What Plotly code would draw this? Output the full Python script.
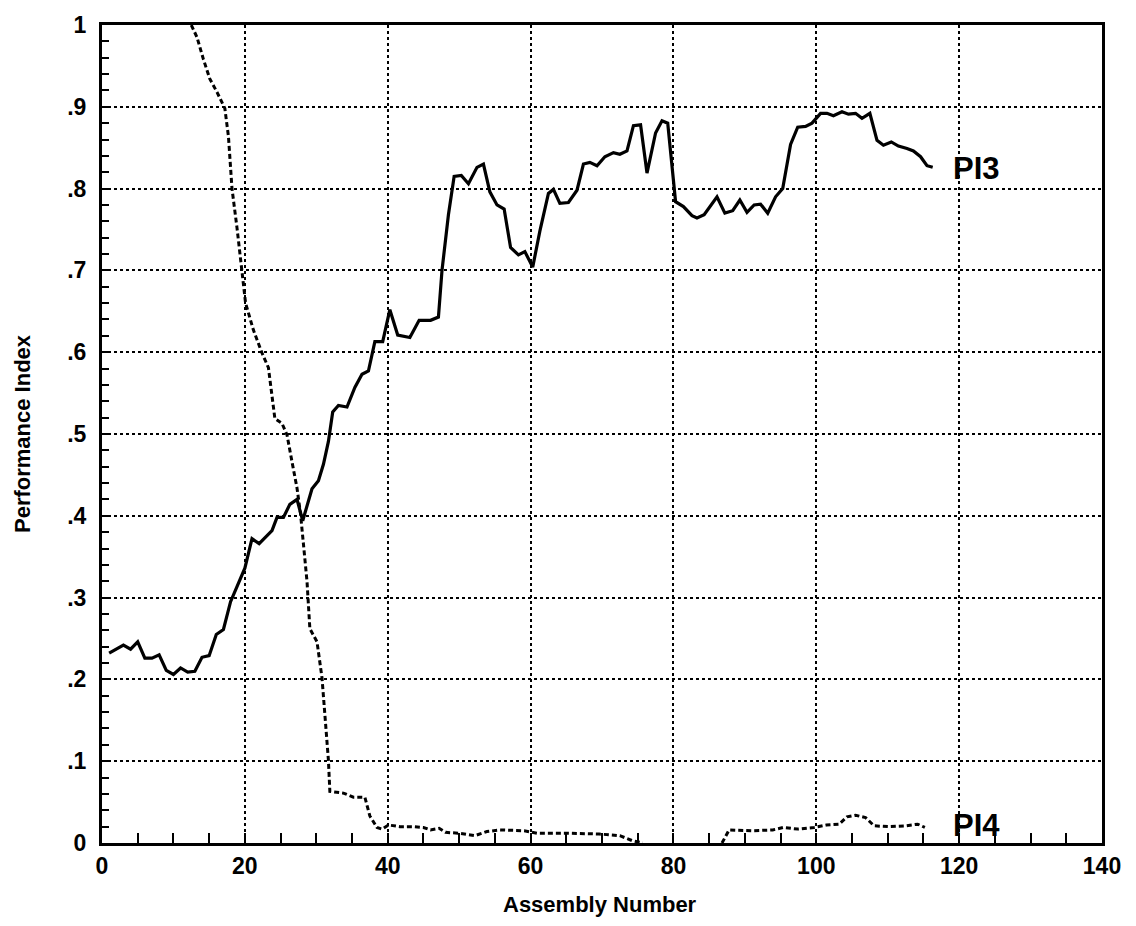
import plotly.graph_objects as go

# PI3 (solid) values
pi3_x = [1, 3, 4, 5, 6, 7, 8, 9, 10, 11, 12, 13, 14, 15, 16, 17, 18, 19, 20, 21, 22,
         23.8, 24.5, 25.4, 26.3, 27.3, 28.1, 29.4, 30.3, 31, 31.7, 32.3, 33.1, 34.3, 35.4,
         36.4, 37.3, 38.2, 39.3, 40.3, 41.4, 43.1, 44.4, 46, 47.1, 47.6, 48.5, 49.3, 50.3,
         51.3, 52.5, 53.4, 54.3, 55.3, 56.3, 57.2, 58.3, 59.2, 60.3, 61.3, 62.5, 63.2, 64.1,
         65.3, 66.5, 67.4, 68.3, 69.3, 70.4, 71.6, 72.5, 73.5, 74.4, 75.4, 76.3, 77.5, 78.4,
         79.2, 80.3, 81.4, 82.6, 83.3, 84.3, 86.1, 87.2, 88.3, 89.3, 90.3, 91.3, 92.2, 93.2,
         94.3, 95.3, 96.4, 97.4, 98.5, 99.4, 100.6, 101.5, 102.4, 103.6, 104.5, 105.5, 106.4,
         107.5, 108.5, 109.4, 110.5, 111.5, 112.7, 113.6, 114.6, 115.5, 116.3]
pi3_y = [.232, .242, .237, .246, .226, .226, .230, .211, .206, .214, .209, .210, .227, .229,
         .255, .261, .295, .316, .336, .372, .366, .382, .398, .398, .414, .420, .394, .433,
         .443, .463, .491, .527, .535, .533, .557, .573, .577, .613, .613, .652, .621, .618,
         .639, .639, .643, .700, .768, .815, .816, .806, .826, .830, .796, .780, .775, .728,
         .719, .723, .704, .748, .794, .799, .782, .783, .798, .830, .832, .828, .839, .844,
         .842, .846, .877, .878, .819, .868, .883, .880, .784, .778, .767, .764, .768, .790,
         .770, .773, .786, .771, .780, .781, .770, .790, .800, .854, .875, .876, .880, .892,
         .892, .889, .894, .891, .892, .886, .892, .859, .853, .857, .852, .849, .846, .839,
         .828, .826]

# PI4 (dotted) values; None = no visible trace (runs along the axis)
pi4_x = [12.5, 13.3, 14.2, 15.1, 16.1, 17.2, 17.7, 18.2, 18.9, 19.6, 20.1, 21.2, 22.4, 23.3,
         24.2, 25.2, 25.9, 26.6, 27.3, 27.8, 28.2, 28.7, 29.1, 30.1, 30.8, 31.2, 31.7, 31.9,
         33.8, 35.2, 36.8, 37.5, 38.5, 39.2, 40.1, 41.7, 43.6, 45.0, 46, 47.2, 48.1, 49.9,
         52.2, 53.9, 55.7, 59.1, 60.9, 64.9, 69.6, 72.5, 74.2, 75.7, 81.0, 86.8, 87.8, 91,
         93.9, 95.4, 97.4, 99.7, 101.4, 103.2, 104.3, 105.5, 106.9, 108.1, 110.1, 112.5,
         114.2, 115.2]
pi4_y = [1.0, .985, .958, .934, .918, .898, .864, .80, .752, .70, .66, .627, .599, .581,
         .519, .513, .499, .466, .434, .402, .366, .32, .262, .246, .202, .161, .101, .063,
         .061, .056, .056, .033, .019, .017, .022, .020, .020, .019, .016, .018, .013, .012,
         .009, .014, .016, .015, .012, .012, .011, .009, .003, 0, None, 0, .016, .015,
         .016, .019, .017, .019, .022, .023, .032, .034, .031, .021, .020, .021, .023, .019]

x_ticks = [0, 20, 40, 60, 80, 100, 120, 140]
y_ticks = [0, .1, .2, .3, .4, .5, .6, .7, .8, .9, 1]
y_tick_text = ["0", ".1", ".2", ".3", ".4", ".5", ".6", ".7", ".8", ".9", "1"]

FONT = "Liberation Sans"

fig = go.Figure()
fig.add_trace(go.Scatter(x=pi3_x, y=pi3_y, mode="lines", name="PI3",
                         line=dict(color="black", width=3.2)))
fig.add_trace(go.Scatter(x=pi4_x, y=pi4_y, mode="lines", name="PI4", connectgaps=False,
                         line=dict(color="black", width=3, dash="5px,3px")))

fig.add_annotation(x=118.8, y=0.824, text="PI3", showarrow=False, xanchor="left",
                   font=dict(family=FONT, size=31, color="black", weight="bold"))
fig.add_annotation(x=118.8, y=0.022, text="PI4", showarrow=False, xanchor="left",
                   font=dict(family=FONT, size=31, color="black", weight="bold"))

fig.add_annotation(xref="paper", yref="paper", x=-0.08, y=0.5, text="Performance Index",
                   textangle=-90, showarrow=False, xanchor="center", yanchor="middle",
                   font=dict(family=FONT, size=22, color="black", weight="bold"))
fig.add_annotation(xref="paper", yref="paper", x=0.498, y=-0.075, text="Assembly Number",
                   showarrow=False, xanchor="center", yanchor="middle",
                   font=dict(family=FONT, size=22, color="black", weight="bold"))

axis_common = dict(showline=True, linecolor="black", linewidth=3, mirror=True,
                   showgrid=True, gridcolor="black", gridwidth=1.5, griddash="dot",
                   zeroline=False, ticks="inside", tickcolor="black", tickwidth=2,
                   tickfont=dict(family=FONT, size=23, color="black", weight="bold"))

fig.update_xaxes(range=[0, 140], tickvals=x_ticks, ticklen=10, ticklabelstandoff=0,
                 minor=dict(dtick=5, ticks="inside", ticklen=10, tickcolor="black",
                            tickwidth=2, showgrid=False),
                 **axis_common)
fig.update_yaxes(range=[0, 1], tickvals=y_ticks, ticktext=y_tick_text, ticklen=7,
                 ticklabelstandoff=8,
                 minor=dict(dtick=0.02, ticks="inside", ticklen=7, tickcolor="black",
                            tickwidth=2, showgrid=False),
                 **axis_common)

fig.update_layout(width=1136, height=926, margin=dict(l=102, r=34, t=15, b=83),
                  plot_bgcolor="white", paper_bgcolor="white", showlegend=False,
                  font=dict(family=FONT, color="black"))

fig.write_html("out.html")
